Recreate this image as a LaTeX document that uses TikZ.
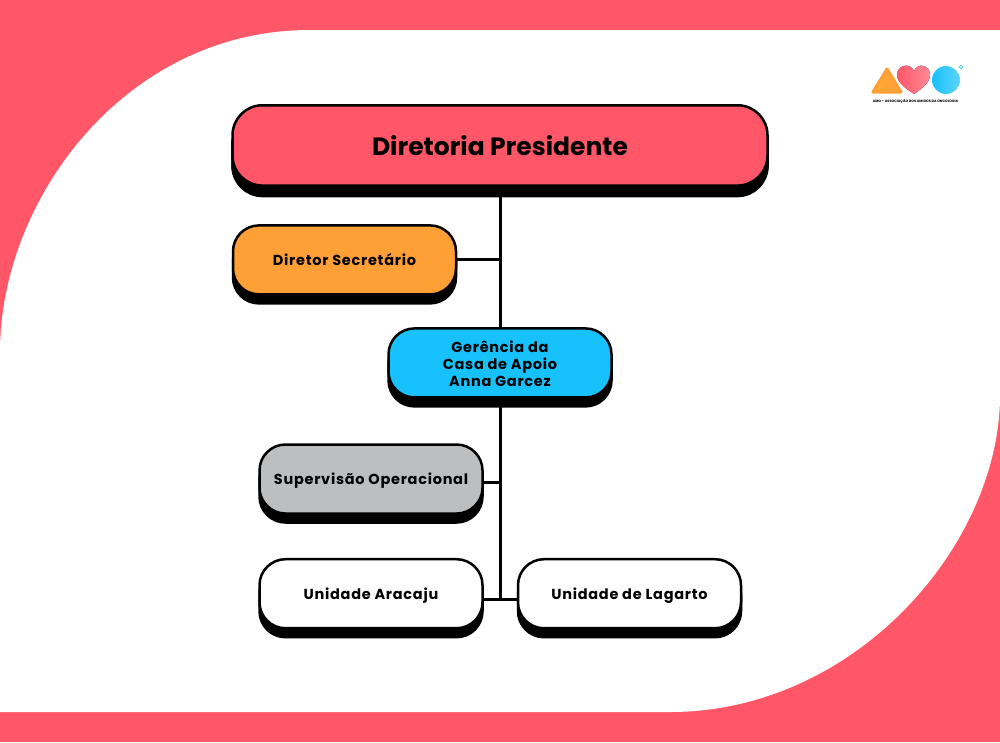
\documentclass[tikz,border=0pt]{standalone}
\usepackage{fontspec}
\setmainfont{Poppins}
\usetikzlibrary{positioning, shadows, shadings}

\definecolor{vermelho}{HTML}{FF5768}
\definecolor{laranja}{HTML}{FFA037}
\definecolor{azul}{HTML}{17C1FB}
\definecolor{cinza}{HTML}{BCBEC0}

\begin{document}
\begin{tikzpicture}[
        x=1pt, y=-1pt,
        block/.style={rectangle, draw=black, line width=2.5pt, align=center, rounded corners=26pt, minimum width=223pt, minimum height=69pt, inner sep=0pt, font=\bfseries\fontsize{14.5}{17}\selectfont\addfontfeature{LetterSpace=5}, copy shadow={shadow xshift=0pt, shadow yshift=-9pt, fill=black, draw=black}},
        linha/.style={text height=13.5pt, text depth=2.5pt},
        titulo/.style={block, rounded corners=30pt, minimum width=535pt, minimum height=80.3pt, text height=24pt, text depth=3pt, font=\bfseries\fontsize{25}{29}\selectfont, copy shadow={shadow xshift=0pt, shadow yshift=-10.5pt, fill=black, draw=black}},
        line/.style={draw=black, line width=3pt}
    ]
        % fundo
        \useasboundingbox (0,0) rectangle (1000,742);
        \fill[vermelho] (0,0) rectangle (1000,742);
        \fill[white] (1000,30) -- (310,30) .. controls (125,30) and (0,200) .. (0,352) -- (0,712) -- (670,712) .. controls (855,712) and (1000,545) .. (1000,395) -- cycle;

        % ligacoes
        \coordinate (noSecretario) at (500,259.5);
        \coordinate (noSupervisao) at (500,482);
        \coordinate (noUnidades) at (500,599.5);

        \node [titulo, fill=vermelho] (presidente) at (500,145.4) {Diretoria Presidente};
        \node [block, linha, fill=laranja] (secretario) at (344.5,259.9) {Diretor Secretário};
        \node [block, fill=azul, text height=50.5pt, text depth=4pt] (gerencia) at (500,362.9) {Gerência da\\Casa de Apoio\\Anna Garcez};
        \node [block, linha, fill=cinza] (supervisao) at (371,479) {Supervisão Operacional};
        \node [block, linha, fill=white] (aracaju) at (371,593.7) {Unidade Aracaju};
        \node [block, linha, fill=white, right=33pt of aracaju] (lagarto) {Unidade de Lagarto};

        \draw[line] (presidente.south) -- (gerencia.north);
        \draw[line] (gerencia.south) -- (noUnidades);
        \draw[line] (secretario.east |- noSecretario) -- (noSecretario);
        \draw[line] (supervisao.east |- noSupervisao) -- (noSupervisao);
        \draw[line] (aracaju.east |- noUnidades) -- (lagarto.west |- noUnidades);

        % logo
        \fill[left color=laranja!85!yellow, right color=laranja!90!vermelho, draw=laranja, line width=3pt, line join=round] (887,69) -- (901,92) -- (873,92) -- cycle;
        \fill[left color=vermelho, middle color=vermelho, right color=vermelho!70!white] (914,94) .. controls (905,88) and (897,82) .. (897,75) .. controls (897,65) and (910,62) .. (914,71) .. controls (918,62) and (930,65) .. (930,75) .. controls (930,82) and (923,88) .. (914,94) -- cycle;
        \shade[left color=azul, middle color=azul, right color=azul!70!white] (946,80) circle (14);
        \draw[azul, line width=0.6pt] (961,67) circle (1.7);
        \node [font=\bfseries\fontsize{3.4}{4}\selectfont, inner sep=0pt] (logotexto) at (915.5,101) {AMO -- ASSOCIAÇÃO DOS AMIGOS DA ONCOLOGIA};
    \end{tikzpicture}
\end{document}
